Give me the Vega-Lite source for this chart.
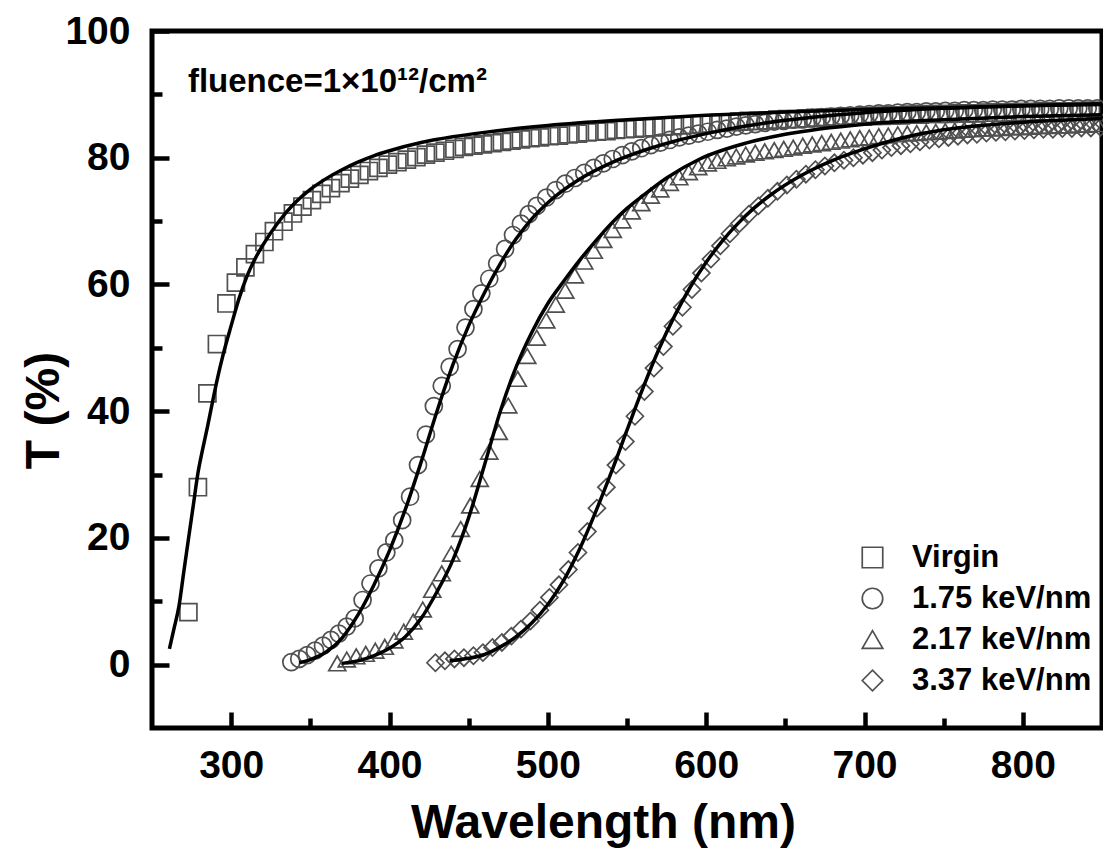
{
  "$schema": "https://vega.github.io/schema/vega-lite/v6.json",
  "width": 950,
  "height": 697,
  "autosize": "none",
  "padding": {"left": 152, "top": 31, "right": 1, "bottom": 120},
  "background": "white",
  "config": {
    "font": "Liberation Sans",
    "view": {"stroke": "black", "strokeWidth": 5},
    "axis": {"grid": false, "domain": false, "tickColor": "black", "tickWidth": 4.5, "labelFont": "Liberation Sans", "labelFontWeight": "bold", "labelFontSize": 39, "labelColor": "black", "titleFont": "Liberation Sans", "titleFontWeight": "bold", "titleFontSize": 48, "titleColor": "black"}
  },
  "datasets": {
    "pts": [
      {"s":"Virgin","x":273,"y":8.3},{"s":"Virgin","x":279,"y":28},{"s":"Virgin","x":285,"y":42.8},{"s":"Virgin","x":291,"y":50.6},{"s":"Virgin","x":297,"y":57},{"s":"Virgin","x":303,"y":60.3},{"s":"Virgin","x":309,"y":62.7},{"s":"Virgin","x":315,"y":64.8},{"s":"Virgin","x":321,"y":66.7},{"s":"Virgin","x":327,"y":68.4},{"s":"Virgin","x":333,"y":69.9},{"s":"Virgin","x":339,"y":71.2},{"s":"Virgin","x":345,"y":72.3},{"s":"Virgin","x":351,"y":73.3},{"s":"Virgin","x":357,"y":74.3},{"s":"Virgin","x":363,"y":75.2},{"s":"Virgin","x":369,"y":76},{"s":"Virgin","x":375,"y":76.7},{"s":"Virgin","x":381,"y":77.3},{"s":"Virgin","x":387,"y":77.9},{"s":"Virgin","x":393,"y":78.4},{"s":"Virgin","x":399,"y":78.9},{"s":"Virgin","x":405,"y":79.3},{"s":"Virgin","x":411,"y":79.7},{"s":"Virgin","x":417,"y":80.1},{"s":"Virgin","x":423,"y":80.5},{"s":"Virgin","x":429,"y":80.8},{"s":"Virgin","x":435,"y":81.1},{"s":"Virgin","x":441,"y":81.4},{"s":"Virgin","x":447,"y":81.7},{"s":"Virgin","x":453,"y":81.9},{"s":"Virgin","x":459,"y":82.1},{"s":"Virgin","x":465,"y":82.3},{"s":"Virgin","x":471,"y":82.5},{"s":"Virgin","x":477,"y":82.7},{"s":"Virgin","x":483,"y":82.9},{"s":"Virgin","x":489,"y":83.1},{"s":"Virgin","x":495,"y":83.2},{"s":"Virgin","x":501,"y":83.4},{"s":"Virgin","x":507,"y":83.5},{"s":"Virgin","x":513,"y":83.7},{"s":"Virgin","x":519,"y":83.8},{"s":"Virgin","x":525,"y":84},{"s":"Virgin","x":531,"y":84.1},{"s":"Virgin","x":537,"y":84.2},{"s":"Virgin","x":543,"y":84.4},{"s":"Virgin","x":549,"y":84.5},{"s":"Virgin","x":555,"y":84.6},{"s":"Virgin","x":561,"y":84.7},{"s":"Virgin","x":567,"y":84.8},{"s":"Virgin","x":573,"y":84.9},{"s":"Virgin","x":579,"y":85},{"s":"Virgin","x":585,"y":85.1},{"s":"Virgin","x":591,"y":85.2},{"s":"Virgin","x":597,"y":85.3},{"s":"Virgin","x":603,"y":85.4},{"s":"Virgin","x":609,"y":85.5},{"s":"Virgin","x":615,"y":85.6},{"s":"Virgin","x":621,"y":85.7},{"s":"Virgin","x":627,"y":85.8},{"s":"Virgin","x":633,"y":85.8},{"s":"Virgin","x":639,"y":85.9},{"s":"Virgin","x":645,"y":86},{"s":"Virgin","x":651,"y":86.1},{"s":"Virgin","x":657,"y":86.1},{"s":"Virgin","x":663,"y":86.2},{"s":"Virgin","x":669,"y":86.3},{"s":"Virgin","x":675,"y":86.3},{"s":"Virgin","x":681,"y":86.4},{"s":"Virgin","x":687,"y":86.4},{"s":"Virgin","x":693,"y":86.5},{"s":"Virgin","x":699,"y":86.5},{"s":"Virgin","x":705,"y":86.6},{"s":"Virgin","x":711,"y":86.6},{"s":"Virgin","x":717,"y":86.7},{"s":"Virgin","x":723,"y":86.7},{"s":"Virgin","x":729,"y":86.8},{"s":"Virgin","x":735,"y":86.8},{"s":"Virgin","x":741,"y":86.9},{"s":"Virgin","x":747,"y":86.9},{"s":"Virgin","x":753,"y":86.9},{"s":"Virgin","x":759,"y":87},{"s":"Virgin","x":765,"y":87},{"s":"Virgin","x":771,"y":87},{"s":"Virgin","x":777,"y":87.1},{"s":"Virgin","x":783,"y":87.1},{"s":"Virgin","x":789,"y":87.1},{"s":"Virgin","x":795,"y":87.2},{"s":"Virgin","x":801,"y":87.2},{"s":"Virgin","x":807,"y":87.2},{"s":"Virgin","x":813,"y":87.3},{"s":"Virgin","x":819,"y":87.3},{"s":"Virgin","x":825,"y":87.3},{"s":"Virgin","x":831,"y":87.3},{"s":"Virgin","x":837,"y":87.4},{"s":"Virgin","x":843,"y":87.4},{"s":"Virgin","x":849,"y":87.4},

      {"s":"1.75 keV/nm","x":338,"y":0.4},{"s":"1.75 keV/nm","x":343,"y":0.9},{"s":"1.75 keV/nm","x":348,"y":1.5},{"s":"1.75 keV/nm","x":353,"y":2.2},{"s":"1.75 keV/nm","x":358,"y":3},{"s":"1.75 keV/nm","x":363,"y":3.9},{"s":"1.75 keV/nm","x":368,"y":4.9},{"s":"1.75 keV/nm","x":373,"y":6},{"s":"1.75 keV/nm","x":378,"y":7.3},{"s":"1.75 keV/nm","x":383,"y":10.2},{"s":"1.75 keV/nm","x":388,"y":12.8},{"s":"1.75 keV/nm","x":393,"y":15.2},{"s":"1.75 keV/nm","x":398,"y":17.7},{"s":"1.75 keV/nm","x":403,"y":19.6},{"s":"1.75 keV/nm","x":408,"y":22.8},{"s":"1.75 keV/nm","x":413,"y":26.5},{"s":"1.75 keV/nm","x":418,"y":31.5},{"s":"1.75 keV/nm","x":423,"y":36.3},{"s":"1.75 keV/nm","x":428,"y":40.8},{"s":"1.75 keV/nm","x":433,"y":44},{"s":"1.75 keV/nm","x":438,"y":47},{"s":"1.75 keV/nm","x":443,"y":49.8},{"s":"1.75 keV/nm","x":448,"y":53.2},{"s":"1.75 keV/nm","x":453,"y":56.1},{"s":"1.75 keV/nm","x":458,"y":58.6},{"s":"1.75 keV/nm","x":463,"y":60.9},{"s":"1.75 keV/nm","x":468,"y":63.3},{"s":"1.75 keV/nm","x":473,"y":65.6},{"s":"1.75 keV/nm","x":478,"y":67.8},{"s":"1.75 keV/nm","x":483,"y":69.6},{"s":"1.75 keV/nm","x":488,"y":71.1},{"s":"1.75 keV/nm","x":493,"y":72.4},{"s":"1.75 keV/nm","x":499,"y":73.7},{"s":"1.75 keV/nm","x":505,"y":74.9},{"s":"1.75 keV/nm","x":511,"y":75.9},{"s":"1.75 keV/nm","x":517,"y":76.8},{"s":"1.75 keV/nm","x":523,"y":77.6},{"s":"1.75 keV/nm","x":529,"y":78.4},{"s":"1.75 keV/nm","x":535,"y":79.1},{"s":"1.75 keV/nm","x":541,"y":79.8},{"s":"1.75 keV/nm","x":547,"y":80.4},{"s":"1.75 keV/nm","x":553,"y":81},{"s":"1.75 keV/nm","x":559,"y":81.5},{"s":"1.75 keV/nm","x":565,"y":82},{"s":"1.75 keV/nm","x":571,"y":82.4},{"s":"1.75 keV/nm","x":577,"y":82.8},{"s":"1.75 keV/nm","x":583,"y":83.2},{"s":"1.75 keV/nm","x":589,"y":83.5},{"s":"1.75 keV/nm","x":595,"y":83.8},{"s":"1.75 keV/nm","x":601,"y":84.1},{"s":"1.75 keV/nm","x":607,"y":84.4},{"s":"1.75 keV/nm","x":613,"y":84.6},{"s":"1.75 keV/nm","x":619,"y":84.9},{"s":"1.75 keV/nm","x":625,"y":85.1},{"s":"1.75 keV/nm","x":631,"y":85.3},{"s":"1.75 keV/nm","x":637,"y":85.5},{"s":"1.75 keV/nm","x":643,"y":85.7},{"s":"1.75 keV/nm","x":649,"y":85.8},{"s":"1.75 keV/nm","x":655,"y":86},{"s":"1.75 keV/nm","x":661,"y":86.1},{"s":"1.75 keV/nm","x":667,"y":86.3},{"s":"1.75 keV/nm","x":673,"y":86.4},{"s":"1.75 keV/nm","x":679,"y":86.5},{"s":"1.75 keV/nm","x":685,"y":86.6},{"s":"1.75 keV/nm","x":691,"y":86.7},{"s":"1.75 keV/nm","x":697,"y":86.8},{"s":"1.75 keV/nm","x":703,"y":86.9},{"s":"1.75 keV/nm","x":709,"y":87},{"s":"1.75 keV/nm","x":715,"y":87},{"s":"1.75 keV/nm","x":721,"y":87.1},{"s":"1.75 keV/nm","x":727,"y":87.2},{"s":"1.75 keV/nm","x":733,"y":87.2},{"s":"1.75 keV/nm","x":739,"y":87.3},{"s":"1.75 keV/nm","x":745,"y":87.3},{"s":"1.75 keV/nm","x":751,"y":87.4},{"s":"1.75 keV/nm","x":757,"y":87.4},{"s":"1.75 keV/nm","x":763,"y":87.5},{"s":"1.75 keV/nm","x":769,"y":87.5},{"s":"1.75 keV/nm","x":775,"y":87.5},{"s":"1.75 keV/nm","x":781,"y":87.6},{"s":"1.75 keV/nm","x":787,"y":87.6},{"s":"1.75 keV/nm","x":793,"y":87.6},{"s":"1.75 keV/nm","x":799,"y":87.7},{"s":"1.75 keV/nm","x":805,"y":87.7},{"s":"1.75 keV/nm","x":811,"y":87.7},{"s":"1.75 keV/nm","x":817,"y":87.7},{"s":"1.75 keV/nm","x":823,"y":87.8},{"s":"1.75 keV/nm","x":829,"y":87.8},{"s":"1.75 keV/nm","x":835,"y":87.8},{"s":"1.75 keV/nm","x":841,"y":87.8},{"s":"1.75 keV/nm","x":847,"y":87.8},

      {"s":"2.17 keV/nm","x":367,"y":0.2},{"s":"2.17 keV/nm","x":373,"y":0.8},{"s":"2.17 keV/nm","x":379,"y":1.3},{"s":"2.17 keV/nm","x":385,"y":1.7},{"s":"2.17 keV/nm","x":391,"y":2.2},{"s":"2.17 keV/nm","x":397,"y":2.8},{"s":"2.17 keV/nm","x":403,"y":3.8},{"s":"2.17 keV/nm","x":409,"y":5.2},{"s":"2.17 keV/nm","x":415,"y":6.8},{"s":"2.17 keV/nm","x":421,"y":8.7},{"s":"2.17 keV/nm","x":427,"y":11.8},{"s":"2.17 keV/nm","x":433,"y":14.4},{"s":"2.17 keV/nm","x":439,"y":17.5},{"s":"2.17 keV/nm","x":445,"y":21.4},{"s":"2.17 keV/nm","x":451,"y":25.1},{"s":"2.17 keV/nm","x":457,"y":29.3},{"s":"2.17 keV/nm","x":463,"y":33.6},{"s":"2.17 keV/nm","x":469,"y":36.7},{"s":"2.17 keV/nm","x":475,"y":40.9},{"s":"2.17 keV/nm","x":481,"y":45.1},{"s":"2.17 keV/nm","x":487,"y":48.7},{"s":"2.17 keV/nm","x":493,"y":51.6},{"s":"2.17 keV/nm","x":499,"y":54.3},{"s":"2.17 keV/nm","x":505,"y":56.8},{"s":"2.17 keV/nm","x":511,"y":59},{"s":"2.17 keV/nm","x":517,"y":61.4},{"s":"2.17 keV/nm","x":523,"y":63.6},{"s":"2.17 keV/nm","x":529,"y":65.3},{"s":"2.17 keV/nm","x":535,"y":67},{"s":"2.17 keV/nm","x":541,"y":68.6},{"s":"2.17 keV/nm","x":547,"y":70.1},{"s":"2.17 keV/nm","x":553,"y":71.5},{"s":"2.17 keV/nm","x":559,"y":72.8},{"s":"2.17 keV/nm","x":565,"y":74},{"s":"2.17 keV/nm","x":571,"y":75},{"s":"2.17 keV/nm","x":577,"y":76},{"s":"2.17 keV/nm","x":583,"y":76.9},{"s":"2.17 keV/nm","x":589,"y":77.7},{"s":"2.17 keV/nm","x":595,"y":78.5},{"s":"2.17 keV/nm","x":601,"y":79.1},{"s":"2.17 keV/nm","x":607,"y":79.5},{"s":"2.17 keV/nm","x":613,"y":79.9},{"s":"2.17 keV/nm","x":619,"y":80.2},{"s":"2.17 keV/nm","x":625,"y":80.5},{"s":"2.17 keV/nm","x":631,"y":80.8},{"s":"2.17 keV/nm","x":637,"y":81},{"s":"2.17 keV/nm","x":643,"y":81.2},{"s":"2.17 keV/nm","x":649,"y":81.4},{"s":"2.17 keV/nm","x":655,"y":81.6},{"s":"2.17 keV/nm","x":661,"y":81.9},{"s":"2.17 keV/nm","x":667,"y":82.1},{"s":"2.17 keV/nm","x":673,"y":82.3},{"s":"2.17 keV/nm","x":679,"y":82.5},{"s":"2.17 keV/nm","x":685,"y":82.7},{"s":"2.17 keV/nm","x":691,"y":82.9},{"s":"2.17 keV/nm","x":697,"y":83.1},{"s":"2.17 keV/nm","x":703,"y":83.2},{"s":"2.17 keV/nm","x":709,"y":83.4},{"s":"2.17 keV/nm","x":715,"y":83.5},{"s":"2.17 keV/nm","x":721,"y":83.7},{"s":"2.17 keV/nm","x":727,"y":83.8},{"s":"2.17 keV/nm","x":733,"y":83.9},{"s":"2.17 keV/nm","x":739,"y":84},{"s":"2.17 keV/nm","x":745,"y":84.1},{"s":"2.17 keV/nm","x":751,"y":84.2},{"s":"2.17 keV/nm","x":757,"y":84.3},{"s":"2.17 keV/nm","x":763,"y":84.4},{"s":"2.17 keV/nm","x":769,"y":84.5},{"s":"2.17 keV/nm","x":775,"y":84.6},{"s":"2.17 keV/nm","x":781,"y":84.6},{"s":"2.17 keV/nm","x":787,"y":84.7},{"s":"2.17 keV/nm","x":793,"y":84.8},{"s":"2.17 keV/nm","x":799,"y":84.8},{"s":"2.17 keV/nm","x":805,"y":84.9},{"s":"2.17 keV/nm","x":811,"y":85},{"s":"2.17 keV/nm","x":817,"y":85},{"s":"2.17 keV/nm","x":823,"y":85.1},{"s":"2.17 keV/nm","x":829,"y":85.1},{"s":"2.17 keV/nm","x":835,"y":85.2},{"s":"2.17 keV/nm","x":841,"y":85.2},{"s":"2.17 keV/nm","x":847,"y":85.3},

      {"s":"3.37 keV/nm","x":429,"y":0.3},{"s":"3.37 keV/nm","x":435,"y":0.6},{"s":"3.37 keV/nm","x":441,"y":0.9},{"s":"3.37 keV/nm","x":447,"y":1.1},{"s":"3.37 keV/nm","x":453,"y":1.4},{"s":"3.37 keV/nm","x":459,"y":1.9},{"s":"3.37 keV/nm","x":465,"y":2.7},{"s":"3.37 keV/nm","x":471,"y":3.5},{"s":"3.37 keV/nm","x":477,"y":4.5},{"s":"3.37 keV/nm","x":483,"y":5.6},{"s":"3.37 keV/nm","x":489,"y":6.9},{"s":"3.37 keV/nm","x":495,"y":8.6},{"s":"3.37 keV/nm","x":501,"y":10.6},{"s":"3.37 keV/nm","x":507,"y":12.6},{"s":"3.37 keV/nm","x":513,"y":15},{"s":"3.37 keV/nm","x":519,"y":17.7},{"s":"3.37 keV/nm","x":525,"y":21},{"s":"3.37 keV/nm","x":531,"y":24.7},{"s":"3.37 keV/nm","x":537,"y":28},{"s":"3.37 keV/nm","x":543,"y":31.5},{"s":"3.37 keV/nm","x":549,"y":35.2},{"s":"3.37 keV/nm","x":555,"y":39.2},{"s":"3.37 keV/nm","x":561,"y":43.1},{"s":"3.37 keV/nm","x":567,"y":46.8},{"s":"3.37 keV/nm","x":573,"y":50.2},{"s":"3.37 keV/nm","x":579,"y":53.4},{"s":"3.37 keV/nm","x":585,"y":56.4},{"s":"3.37 keV/nm","x":591,"y":59.2},{"s":"3.37 keV/nm","x":597,"y":61.8},{"s":"3.37 keV/nm","x":603,"y":64},{"s":"3.37 keV/nm","x":609,"y":66.1},{"s":"3.37 keV/nm","x":615,"y":68},{"s":"3.37 keV/nm","x":621,"y":69.6},{"s":"3.37 keV/nm","x":627,"y":71.1},{"s":"3.37 keV/nm","x":633,"y":72.4},{"s":"3.37 keV/nm","x":639,"y":73.6},{"s":"3.37 keV/nm","x":645,"y":74.7},{"s":"3.37 keV/nm","x":651,"y":75.7},{"s":"3.37 keV/nm","x":657,"y":76.6},{"s":"3.37 keV/nm","x":663,"y":77.4},{"s":"3.37 keV/nm","x":669,"y":78.1},{"s":"3.37 keV/nm","x":675,"y":78.7},{"s":"3.37 keV/nm","x":681,"y":79.2},{"s":"3.37 keV/nm","x":687,"y":79.6},{"s":"3.37 keV/nm","x":693,"y":80},{"s":"3.37 keV/nm","x":699,"y":80.4},{"s":"3.37 keV/nm","x":705,"y":80.8},{"s":"3.37 keV/nm","x":711,"y":81.2},{"s":"3.37 keV/nm","x":717,"y":81.6},{"s":"3.37 keV/nm","x":723,"y":81.9},{"s":"3.37 keV/nm","x":729,"y":82.2},{"s":"3.37 keV/nm","x":735,"y":82.5},{"s":"3.37 keV/nm","x":741,"y":82.8},{"s":"3.37 keV/nm","x":747,"y":83},{"s":"3.37 keV/nm","x":753,"y":83.2},{"s":"3.37 keV/nm","x":759,"y":83.4},{"s":"3.37 keV/nm","x":765,"y":83.6},{"s":"3.37 keV/nm","x":771,"y":83.7},{"s":"3.37 keV/nm","x":777,"y":83.9},{"s":"3.37 keV/nm","x":783,"y":84},{"s":"3.37 keV/nm","x":789,"y":84.1},{"s":"3.37 keV/nm","x":795,"y":84.2},{"s":"3.37 keV/nm","x":801,"y":84.3},{"s":"3.37 keV/nm","x":807,"y":84.4},{"s":"3.37 keV/nm","x":813,"y":84.5},{"s":"3.37 keV/nm","x":819,"y":84.5},{"s":"3.37 keV/nm","x":825,"y":84.6},{"s":"3.37 keV/nm","x":831,"y":84.6},{"s":"3.37 keV/nm","x":837,"y":84.7},{"s":"3.37 keV/nm","x":843,"y":84.7},{"s":"3.37 keV/nm","x":849,"y":84.8}
    ],
    "fit": [
      {"s":"Virgin","x":261,"y":2.5},{"s":"Virgin","x":264,"y":5.8},{"s":"Virgin","x":267,"y":9.2},{"s":"Virgin","x":270,"y":14.5},{"s":"Virgin","x":273,"y":19.8},{"s":"Virgin","x":276,"y":25},{"s":"Virgin","x":279,"y":30.2},{"s":"Virgin","x":282,"y":34},{"s":"Virgin","x":285,"y":37.5},{"s":"Virgin","x":288,"y":41.2},{"s":"Virgin","x":291,"y":44.8},{"s":"Virgin","x":295,"y":49},{"s":"Virgin","x":300,"y":53.5},{"s":"Virgin","x":305,"y":57.8},{"s":"Virgin","x":310,"y":61.3},{"s":"Virgin","x":315,"y":64},{"s":"Virgin","x":320,"y":66.2},{"s":"Virgin","x":330,"y":69.9},{"s":"Virgin","x":340,"y":72.8},{"s":"Virgin","x":350,"y":75},{"s":"Virgin","x":360,"y":76.7},{"s":"Virgin","x":370,"y":78.1},{"s":"Virgin","x":380,"y":79.3},{"s":"Virgin","x":390,"y":80.3},{"s":"Virgin","x":400,"y":81.1},{"s":"Virgin","x":420,"y":82.4},{"s":"Virgin","x":440,"y":83.3},{"s":"Virgin","x":460,"y":84},{"s":"Virgin","x":480,"y":84.6},{"s":"Virgin","x":500,"y":85.1},{"s":"Virgin","x":550,"y":86},{"s":"Virgin","x":600,"y":86.7},{"s":"Virgin","x":650,"y":87.2},{"s":"Virgin","x":700,"y":87.6},{"s":"Virgin","x":750,"y":87.9},{"s":"Virgin","x":800,"y":88.2},{"s":"Virgin","x":850,"y":88.4},

      {"s":"1.75 keV/nm","x":343,"y":0.3},{"s":"1.75 keV/nm","x":350,"y":0.8},{"s":"1.75 keV/nm","x":360,"y":2},{"s":"1.75 keV/nm","x":370,"y":4.2},{"s":"1.75 keV/nm","x":380,"y":7.8},{"s":"1.75 keV/nm","x":390,"y":12.5},{"s":"1.75 keV/nm","x":400,"y":18},{"s":"1.75 keV/nm","x":410,"y":24.5},{"s":"1.75 keV/nm","x":420,"y":32},{"s":"1.75 keV/nm","x":430,"y":40},{"s":"1.75 keV/nm","x":440,"y":47.3},{"s":"1.75 keV/nm","x":450,"y":53.5},{"s":"1.75 keV/nm","x":460,"y":58.7},{"s":"1.75 keV/nm","x":470,"y":63.3},{"s":"1.75 keV/nm","x":480,"y":67.2},{"s":"1.75 keV/nm","x":490,"y":70.4},{"s":"1.75 keV/nm","x":500,"y":72.9},{"s":"1.75 keV/nm","x":520,"y":76.6},{"s":"1.75 keV/nm","x":540,"y":79.2},{"s":"1.75 keV/nm","x":560,"y":81.1},{"s":"1.75 keV/nm","x":580,"y":82.6},{"s":"1.75 keV/nm","x":600,"y":83.8},{"s":"1.75 keV/nm","x":625,"y":85},{"s":"1.75 keV/nm","x":650,"y":85.9},{"s":"1.75 keV/nm","x":700,"y":87.1},{"s":"1.75 keV/nm","x":750,"y":87.8},{"s":"1.75 keV/nm","x":800,"y":88.2},{"s":"1.75 keV/nm","x":850,"y":88.5},

      {"s":"2.17 keV/nm","x":370,"y":0.2},{"s":"2.17 keV/nm","x":380,"y":0.6},{"s":"2.17 keV/nm","x":390,"y":1.4},{"s":"2.17 keV/nm","x":400,"y":2.6},{"s":"2.17 keV/nm","x":410,"y":4.4},{"s":"2.17 keV/nm","x":420,"y":7.3},{"s":"2.17 keV/nm","x":430,"y":11.5},{"s":"2.17 keV/nm","x":440,"y":16.5},{"s":"2.17 keV/nm","x":450,"y":23.2},{"s":"2.17 keV/nm","x":460,"y":31.5},{"s":"2.17 keV/nm","x":470,"y":40},{"s":"2.17 keV/nm","x":480,"y":47},{"s":"2.17 keV/nm","x":490,"y":52.5},{"s":"2.17 keV/nm","x":500,"y":57},{"s":"2.17 keV/nm","x":510,"y":60.5},{"s":"2.17 keV/nm","x":520,"y":63.8},{"s":"2.17 keV/nm","x":530,"y":66.8},{"s":"2.17 keV/nm","x":540,"y":69.6},{"s":"2.17 keV/nm","x":550,"y":72},{"s":"2.17 keV/nm","x":560,"y":74},{"s":"2.17 keV/nm","x":575,"y":76.8},{"s":"2.17 keV/nm","x":596,"y":79.8},{"s":"2.17 keV/nm","x":625,"y":82.3},{"s":"2.17 keV/nm","x":650,"y":83.7},{"s":"2.17 keV/nm","x":700,"y":85.3},{"s":"2.17 keV/nm","x":750,"y":86},{"s":"2.17 keV/nm","x":800,"y":86.5},{"s":"2.17 keV/nm","x":850,"y":86.8},

      {"s":"3.37 keV/nm","x":438,"y":0.6},{"s":"3.37 keV/nm","x":450,"y":1},{"s":"3.37 keV/nm","x":460,"y":1.6},{"s":"3.37 keV/nm","x":470,"y":2.8},{"s":"3.37 keV/nm","x":480,"y":4.4},{"s":"3.37 keV/nm","x":490,"y":6.6},{"s":"3.37 keV/nm","x":500,"y":9.5},{"s":"3.37 keV/nm","x":510,"y":13.3},{"s":"3.37 keV/nm","x":520,"y":18.2},{"s":"3.37 keV/nm","x":530,"y":24},{"s":"3.37 keV/nm","x":540,"y":30.3},{"s":"3.37 keV/nm","x":550,"y":37},{"s":"3.37 keV/nm","x":560,"y":43.6},{"s":"3.37 keV/nm","x":570,"y":49.7},{"s":"3.37 keV/nm","x":580,"y":55},{"s":"3.37 keV/nm","x":590,"y":59.6},{"s":"3.37 keV/nm","x":600,"y":63.5},{"s":"3.37 keV/nm","x":610,"y":66.8},{"s":"3.37 keV/nm","x":620,"y":69.6},{"s":"3.37 keV/nm","x":630,"y":72},{"s":"3.37 keV/nm","x":640,"y":74},{"s":"3.37 keV/nm","x":660,"y":77.2},{"s":"3.37 keV/nm","x":680,"y":79.6},{"s":"3.37 keV/nm","x":700,"y":81.4},{"s":"3.37 keV/nm","x":725,"y":83.2},{"s":"3.37 keV/nm","x":750,"y":84.4},{"s":"3.37 keV/nm","x":800,"y":85.6},{"s":"3.37 keV/nm","x":850,"y":86.2}
    ],
    "ann": [{"x": 272.7, "y": 90.4, "t": "fluence=1×10¹²/cm²"}]
  },
  "resolve": {"axis": {"x": "independent", "y": "independent"}},
  "layer": [
    {
      "data": {"name": "pts"},
      "mark": {"type": "point", "filled": false, "stroke": "#505050", "strokeWidth": 1.7, "size": 290, "opacity": 1},
      "encoding": {
        "x": {"field": "x", "type": "quantitative", "scale": {"domain": [250, 850], "nice": false, "zero": false},
              "axis": {"orient": "bottom", "values": [300, 400, 500, 600, 700, 800], "tickSize": -16, "labelPadding": 34, "labelFlush": false, "labelOverlap": false, "title": "Wavelength (nm)", "titleX": 451, "titleY": 109, "titleBaseline": "alphabetic", "titleAlign": "center", "titleAnchor": null}},
        "y": {"field": "y", "type": "quantitative", "scale": {"domain": [-10, 100], "nice": false, "zero": false},
              "axis": {"orient": "left", "values": [0, 20, 40, 60, 80, 100], "tickSize": -17, "labelPadding": 39, "labelFlush": false, "labelOverlap": false, "title": "T (%)", "titleX": -94, "titleY": 379, "titleAngle": -90, "titleBaseline": "alphabetic", "titleAlign": "center"}},
        "shape": {"field": "s", "type": "nominal",
                  "scale": {"domain": ["Virgin", "1.75 keV/nm", "2.17 keV/nm", "3.37 keV/nm"], "range": ["square", "circle", "triangle-up", "diamond"]},
                  "legend": {"orient": "none", "legendX": 705, "legendY": 511, "title": null, "padding": 0, "symbolSize": 420, "symbolStrokeColor": "#505050", "symbolFillColor": "transparent", "symbolStrokeWidth": 1.7, "labelFont": "Liberation Sans", "labelFontWeight": "bold", "labelFontSize": 31, "labelColor": "black", "labelOffset": 24, "labelLimit": 400, "rowPadding": 9}}
      }
    },
    {
      "data": {"name": "fit"},
      "mark": {"type": "line", "color": "black", "strokeWidth": 3.5, "interpolate": "monotone"},
      "encoding": {
        "x": {"field": "x", "type": "quantitative", "scale": {"domain": [250, 850], "nice": false, "zero": false}, "axis": null},
        "y": {"field": "y", "type": "quantitative", "scale": {"domain": [-10, 100], "nice": false, "zero": false}, "axis": null},
        "detail": {"field": "s", "type": "nominal"}
      }
    },
    {
      "data": {"name": "ann"},
      "mark": {"type": "text", "align": "left", "baseline": "alphabetic", "font": "Liberation Sans", "fontWeight": "bold", "fontSize": 33, "color": "black"},
      "encoding": {
        "x": {"field": "x", "type": "quantitative", "scale": {"domain": [250, 850], "nice": false, "zero": false},
              "axis": {"orient": "bottom", "values": [350, 450, 550, 650, 750], "tickSize": -10, "labels": false, "title": null, "domain": false, "grid": false}},
        "y": {"field": "y", "type": "quantitative", "scale": {"domain": [-10, 100], "nice": false, "zero": false},
              "axis": {"orient": "left", "values": [10, 30, 50, 70, 90], "tickSize": -10, "labels": false, "title": null, "domain": false, "grid": false}},
        "text": {"field": "t", "type": "nominal"}
      }
    }
  ]
}
